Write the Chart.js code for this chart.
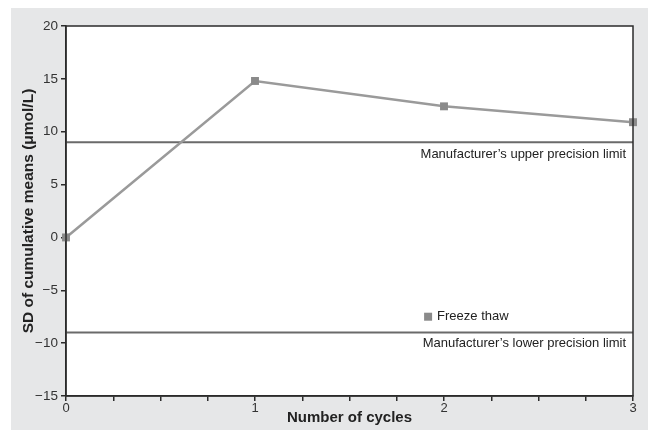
<!DOCTYPE html>
<html lang="en">
<head>
    <meta charset="UTF-8">
    <title>Freeze thaw</title>
    <script src="https://cdn.jsdelivr.net/npm/chart.js"></script>
    <style>
        html, body { margin: 0; padding: 0; background: #fff; }
        #wrap { width: 648px; height: 430px; }
    </style>
</head>
<body>
    <div id="wrap"><canvas id="chart" width="648" height="430"></canvas></div>
    <script>
        // data
        const cycles = [0, 1, 2, 3];
        const freezeThaw = [0, 14.8, 12.4, 10.9];
        const upperLimit = 9;
        const lowerLimit = -9;
        const yTicks = [-15, -10, -5, 0, 5, 10, 15, 20];

        const seriesLabel = 'Freeze thaw';
        const upperText = 'Manufacturer\u2019s upper precision limit';
        const lowerText = 'Manufacturer\u2019s lower precision limit';

        const fontFamily = '"Liberation Sans", Arial, sans-serif';

        // gray panel + frame + annotations
        const decor = {
            id: 'decor',
            beforeDraw(chart) {
                const c = chart.ctx;
                c.save();
                c.fillStyle = '#e6e7e8';
                c.fillRect(11, 8, chart.width - 11, chart.height - 8);
                const a = chart.chartArea;
                c.fillStyle = '#ffffff';
                c.fillRect(a.left, a.top, a.right - a.left, a.bottom - a.top);
                c.restore();
            },
            afterDraw(chart) {
                const c = chart.ctx;
                const a = chart.chartArea;
                const xs = chart.scales.x, ys = chart.scales.y;
                c.save();
                c.strokeStyle = '#2b2b2b';
                c.lineWidth = 1.5;
                c.strokeRect(a.left, a.top, a.right - a.left, a.bottom - a.top);

                c.font = '13px ' + fontFamily;
                c.fillStyle = '#222';
                c.textAlign = 'right';
                c.textBaseline = 'middle';
                c.fillText(upperText, a.right - 7, ys.getPixelForValue(upperLimit) + 12);
                c.fillText(lowerText, a.right - 7, ys.getPixelForValue(lowerLimit) + 11);

                // legend
                const lx = xs.getPixelForValue(1.9);
                const ly = ys.getPixelForValue(-7.5);
                c.fillStyle = '#8a8a8a';
                c.fillRect(lx - 1, ly - 4, 8, 8);
                c.fillStyle = '#222';
                c.textAlign = 'left';
                c.fillText(seriesLabel, lx + 12, ly);
                c.restore();
            }
        };

        new Chart(document.getElementById('chart'), {
            type: 'line',
            data: {
                datasets: [
                    {
                        label: seriesLabel,
                        data: cycles.map((c, i) => ({ x: c, y: freezeThaw[i] })),
                        borderColor: '#9a9a9a',
                        borderWidth: 2.5,
                        pointStyle: 'rect',
                        pointRadius: 5.6,
                        pointBackgroundColor: '#8a8a8a',
                        pointBorderWidth: 0,
                        clip: false,
                        order: 0
                    },
                    {
                        label: 'upper',
                        data: [{ x: cycles[0], y: upperLimit }, { x: cycles[cycles.length - 1], y: upperLimit }],
                        borderColor: '#6a6a6a',
                        borderWidth: 2,
                        pointRadius: 0,
                        order: 1
                    },
                    {
                        label: 'lower',
                        data: [{ x: cycles[0], y: lowerLimit }, { x: cycles[cycles.length - 1], y: lowerLimit }],
                        borderColor: '#6a6a6a',
                        borderWidth: 2,
                        pointRadius: 0,
                        order: 1
                    }
                ]
            },
            options: {
                responsive: false,
                animation: false,
                layout: { padding: { left: 0, top: 26, right: 15, bottom: 0 } },
                plugins: { legend: { display: false }, tooltip: { enabled: false } },
                scales: {
                    x: {
                        type: 'linear',
                        min: 0,
                        max: 3,
                        afterFit(s) { s.height = 34; },
                        border: { display: true, color: '#2b2b2b', width: 1.5 },
                        grid: { drawOnChartArea: false, drawTicks: true, tickLength: 5, color: '#2b2b2b', lineWidth: 1.5 },
                        ticks: {
                            stepSize: 0.25,
                            autoSkip: false,
                            maxRotation: 0,
                            padding: 0,
                            color: '#333',
                            font: { family: fontFamily, size: 13 },
                            callback: v => Number.isInteger(v) ? String(v) : ''
                        },
                        title: {
                            display: true,
                            text: 'Number of cycles',
                            color: '#222',
                            padding: { top: 0, bottom: 3 },
                            font: { family: fontFamily, size: 15, weight: 'bold' }
                        }
                    },
                    y: {
                        min: yTicks[0],
                        max: yTicks[yTicks.length - 1],
                        afterFit(s) { s.width = 66; },
                        afterBuildTicks(s) { s.ticks = yTicks.map(v => ({ value: v })); },
                        border: { display: true, color: '#2b2b2b', width: 1.5 },
                        grid: { drawOnChartArea: false, drawTicks: true, tickLength: 5, color: '#2b2b2b', lineWidth: 1.5 },
                        ticks: {
                            padding: 3,
                            color: '#333',
                            font: { family: fontFamily, size: 13.5 },
                            callback: v => v < 0 ? '\u2212' + Math.abs(v) : String(v)
                        },
                        title: {
                            display: true,
                            text: 'SD of cumulative means (\u03bcmol/L)',
                            color: '#222',
                            padding: { top: 19, bottom: 0 },
                            font: { family: fontFamily, size: 15.5, weight: 'bold' }
                        }
                    }
                }
            },
            plugins: [decor]
        });
    </script>
</body>
</html>
